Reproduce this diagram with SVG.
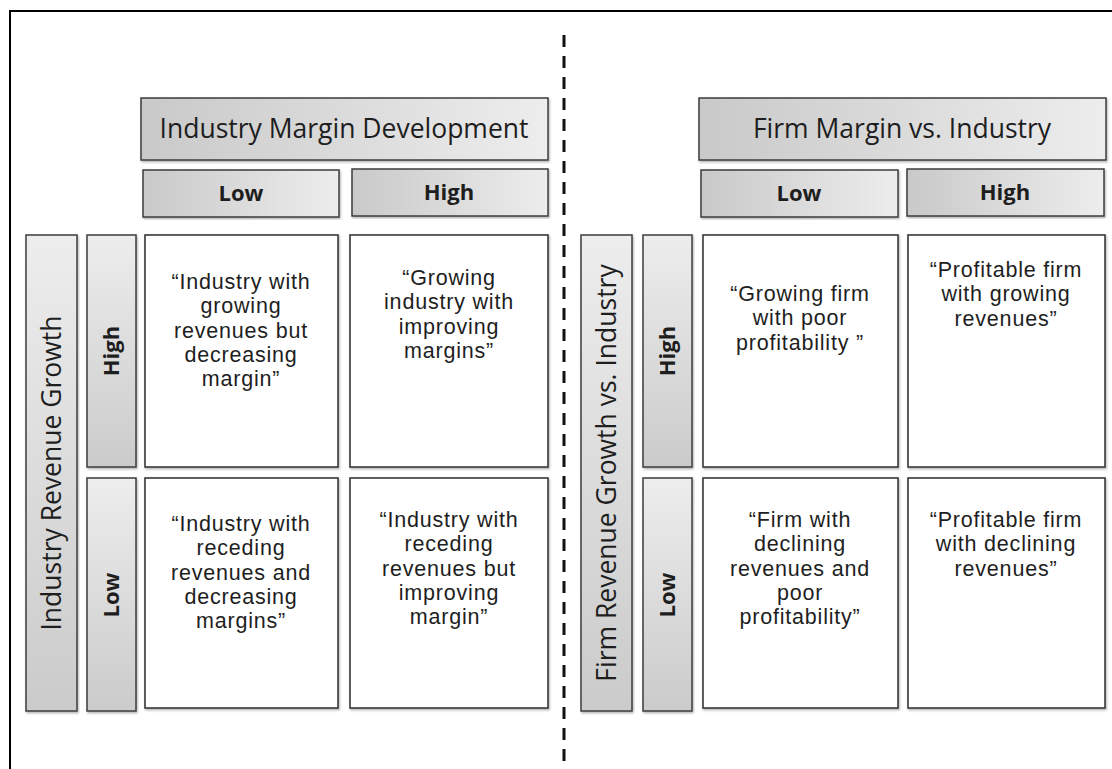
<svg xmlns="http://www.w3.org/2000/svg" width="1112" height="769" viewBox="0 0 1112 769">
<style>
  .hdr { fill: url(#gh); stroke: #3c3c3c; stroke-width: 1.5; filter: url(#sh); }
  .vhdr { fill: url(#gv); stroke: #3c3c3c; stroke-width: 1.5; filter: url(#sh); }
  .cell { fill: #ffffff; stroke: #3a3a3a; stroke-width: 1.6; filter: url(#sh); }
  .t { font-family: "Open Sans", "Liberation Sans", sans-serif; fill: #1e1e1e; text-anchor: middle; }
  .big { font-size: 26.5px; }
  .bold { font-size: 22px; font-weight: bold; }
  .ct { font-family: "Liberation Sans", Arial, sans-serif; font-size: 21.5px; letter-spacing: 0.8px; }
</style>
<defs>
  <linearGradient id="gh" x1="0" y1="0" x2="1" y2="0">
    <stop offset="0" stop-color="#c9c9c9"/>
    <stop offset="1" stop-color="#ededed"/>
  </linearGradient>
  <linearGradient id="gv" x1="0" y1="1" x2="0" y2="0">
    <stop offset="0" stop-color="#cbcbcb"/>
    <stop offset="1" stop-color="#ededed"/>
  </linearGradient>
  <filter id="sh" x="-5%" y="-5%" width="110%" height="110%">
    <feDropShadow dx="1" dy="1.5" stdDeviation="1" flood-color="#000" flood-opacity="0.3"/>
  </filter>
</defs>
<rect width="1112" height="769" fill="#ffffff"/>

<g id="frame">
  <path d="M10 769 V11 H1112" fill="none" stroke="#000" stroke-width="2"/>
  <line x1="564" y1="35" x2="564" y2="769" stroke="#111" stroke-width="3" stroke-dasharray="12 9"/>
</g>

<g id="connectors"></g>

<!-- Left matrix -->
<g id="industry-margin-header">
  <rect class="hdr" x="141" y="98" width="407" height="62"/>
  <text class="t big" x="344" y="138">Industry Margin Development</text>
</g>
<g id="left-col-low">
  <rect class="hdr" x="143" y="170" width="196" height="47"/>
  <text class="t bold" x="241" y="201">Low</text>
</g>
<g id="left-col-high">
  <rect class="hdr" x="352" y="169" width="196" height="47"/>
  <text class="t bold" x="449" y="200">High</text>
</g>
<g id="industry-revenue-header">
  <rect class="vhdr" x="26" y="235" width="51" height="476"/>
  <text class="t big" transform="translate(60.5 473) rotate(-90)">Industry Revenue Growth</text>
</g>
<g id="left-row-high">
  <rect class="vhdr" x="87" y="235" width="49" height="232"/>
  <text class="t bold" transform="translate(119 351) rotate(-90)">High</text>
</g>
<g id="left-row-low">
  <rect class="vhdr" x="87" y="478" width="49" height="233"/>
  <text class="t bold" transform="translate(119 595) rotate(-90)">Low</text>
</g>
<g id="cell-ind-high-low">
  <rect class="cell" x="145" y="235" width="193" height="232"/>
  <text class="t ct" x="241" y="289">“Industry with<tspan x="241" dy="24.3">growing</tspan><tspan x="241" dy="24.3">revenues but</tspan><tspan x="241" dy="24.3">decreasing</tspan><tspan x="241" dy="24.3">margin”</tspan></text>
</g>
<g id="cell-ind-high-high">
  <rect class="cell" x="350" y="235" width="198" height="232"/>
  <text class="t ct" x="449" y="285">“Growing<tspan x="449" dy="24.3">industry with</tspan><tspan x="449" dy="24.3">improving</tspan><tspan x="449" dy="24.3">margins”</tspan></text>
</g>
<g id="cell-ind-low-low">
  <rect class="cell" x="145" y="478" width="193" height="230"/>
  <text class="t ct" x="241" y="531">“Industry with<tspan x="241" dy="24.3">receding</tspan><tspan x="241" dy="24.3">revenues and</tspan><tspan x="241" dy="24.3">decreasing</tspan><tspan x="241" dy="24.3">margins”</tspan></text>
</g>
<g id="cell-ind-low-high">
  <rect class="cell" x="350" y="478" width="198" height="230"/>
  <text class="t ct" x="449" y="527">“Industry with<tspan x="449" dy="24.3">receding</tspan><tspan x="449" dy="24.3">revenues but</tspan><tspan x="449" dy="24.3">improving</tspan><tspan x="449" dy="24.3">margin”</tspan></text>
</g>

<!-- Right matrix -->
<g id="firm-margin-header">
  <rect class="hdr" x="699" y="98" width="407" height="62"/>
  <text class="t big" x="902" y="138">Firm Margin vs. Industry</text>
</g>
<g id="right-col-low">
  <rect class="hdr" x="701" y="170" width="197" height="47"/>
  <text class="t bold" x="799" y="201">Low</text>
</g>
<g id="right-col-high">
  <rect class="hdr" x="907" y="169" width="197" height="47"/>
  <text class="t bold" x="1005" y="200">High</text>
</g>
<g id="firm-revenue-header">
  <rect class="vhdr" x="581" y="235" width="51" height="476"/>
  <text class="t big" transform="translate(615.5 473) rotate(-90)">Firm Revenue Growth vs. Industry</text>
</g>
<g id="right-row-high">
  <rect class="vhdr" x="643" y="235" width="49" height="232"/>
  <text class="t bold" transform="translate(675 351) rotate(-90)">High</text>
</g>
<g id="right-row-low">
  <rect class="vhdr" x="643" y="478" width="49" height="233"/>
  <text class="t bold" transform="translate(675 595) rotate(-90)">Low</text>
</g>
<g id="cell-firm-high-low">
  <rect class="cell" x="703" y="235" width="195" height="232"/>
  <text class="t ct" x="800" y="301">“Growing firm<tspan x="800" dy="24.3">with poor</tspan><tspan x="800" dy="24.3">profitability ”</tspan></text>
</g>
<g id="cell-firm-high-high">
  <rect class="cell" x="908" y="235" width="197" height="232"/>
  <text class="t ct" x="1006" y="277">“Profitable firm<tspan x="1006" dy="24.3">with growing</tspan><tspan x="1006" dy="24.3">revenues”</tspan></text>
</g>
<g id="cell-firm-low-low">
  <rect class="cell" x="703" y="478" width="195" height="230"/>
  <text class="t ct" x="800" y="527">“Firm with<tspan x="800" dy="24.3">declining</tspan><tspan x="800" dy="24.3">revenues and</tspan><tspan x="800" dy="24.3">poor</tspan><tspan x="800" dy="24.3">profitability”</tspan></text>
</g>
<g id="cell-firm-low-high">
  <rect class="cell" x="908" y="478" width="197" height="230"/>
  <text class="t ct" x="1006" y="527">“Profitable firm<tspan x="1006" dy="24.3">with declining</tspan><tspan x="1006" dy="24.3">revenues”</tspan></text>
</g>
</svg>
